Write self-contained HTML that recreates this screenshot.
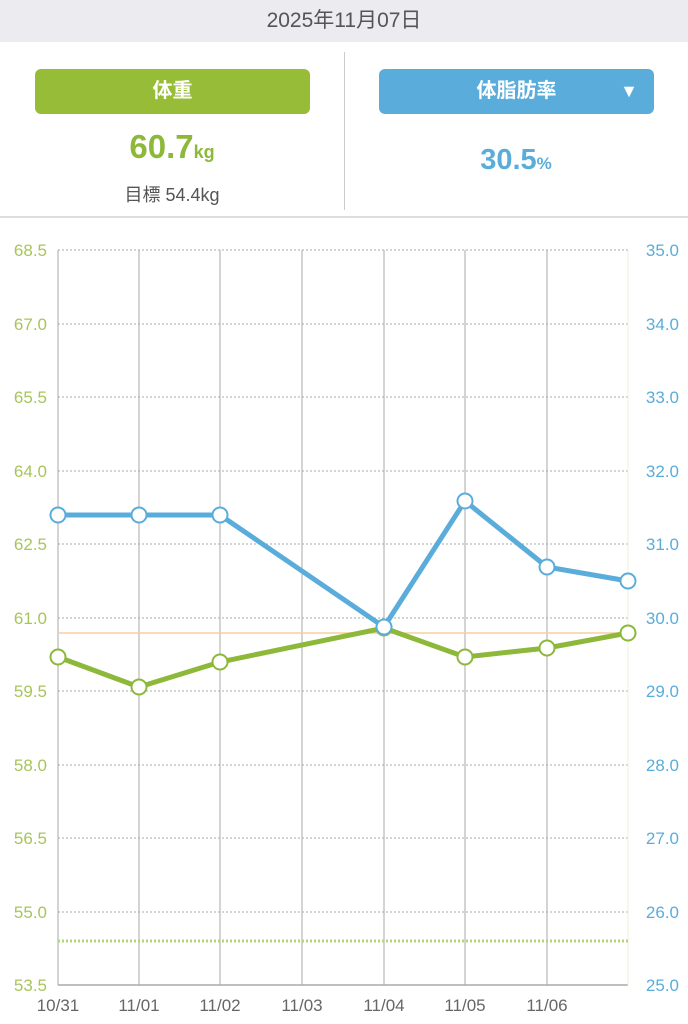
<!DOCTYPE html><html><head><meta charset="utf-8"><style>
body{margin:0;width:688px;height:1024px;background:#fff;font-family:"Liberation Sans","Noto Sans CJK JP",sans-serif;position:relative;overflow:hidden}
.hdr{position:absolute;left:0;top:0;width:688px;height:42px;background:#ebebf0;text-align:center;line-height:42px;font-size:21px;color:#555}
.btn{position:absolute;top:69px;height:45px;border-radius:6px;color:#fff;font-size:20px;line-height:45px;text-align:center;font-weight:bold}
</style></head><body>
<div class="hdr">2025年11月07日</div>
<div class="btn" style="left:35px;width:275px;background:#97bd38">体重</div>
<div class="btn" style="left:379px;width:275px;background:#5aaddb">体脂肪率<span style="position:absolute;right:16px;top:0;font-size:18px">▼</span></div>
<div style="position:absolute;left:0;width:344px;top:128px;text-align:center;color:#8db83a;font-size:33px;font-weight:bold">60.7<span style="font-size:18px">kg</span></div>
<div style="position:absolute;left:0;width:344px;top:181px;text-align:center;color:#555;font-size:18px">目標 54.4kg</div>
<div style="position:absolute;left:344px;width:344px;top:144px;text-align:center;color:#5aaddb;font-size:29px;font-weight:bold">30.5<span style="font-size:17px">%</span></div>
<div style="position:absolute;left:344px;top:52px;width:1px;height:158px;background:#ccc"></div>
<div style="position:absolute;left:0;top:216px;width:688px;height:2px;background:#ddd"></div>
<svg width="688" height="1024" style="position:absolute;left:0;top:0" font-family="Liberation Sans, sans-serif" font-size="17">
<g stroke="#aaa" stroke-dasharray="2,2" stroke-width="1">
<line x1="58" x2="628" y1="250" y2="250"/><line x1="58" x2="628" y1="324" y2="324"/><line x1="58" x2="628" y1="397" y2="397"/><line x1="58" x2="628" y1="471" y2="471"/><line x1="58" x2="628" y1="544" y2="544"/><line x1="58" x2="628" y1="618" y2="618"/><line x1="58" x2="628" y1="691" y2="691"/><line x1="58" x2="628" y1="765" y2="765"/><line x1="58" x2="628" y1="838" y2="838"/><line x1="58" x2="628" y1="912" y2="912"/>
</g>
<g stroke="#aaa" stroke-width="1">
<line x1="58" x2="58" y1="250" y2="985"/><line x1="139" x2="139" y1="250" y2="985"/><line x1="220" x2="220" y1="250" y2="985"/><line x1="302" x2="302" y1="250" y2="985"/><line x1="384" x2="384" y1="250" y2="985"/><line x1="465" x2="465" y1="250" y2="985"/><line x1="547" x2="547" y1="250" y2="985"/>
<line x1="58" x2="628" y1="985" y2="985" stroke-width="1.5"/></g>
<line x1="628" x2="628" y1="250" y2="985" stroke="#eef0d8"/>
<line x1="58" x2="628" y1="633" y2="633" stroke="#f8cfa0" stroke-width="1.5"/>
<line x1="58" x2="628" y1="941" y2="941" stroke="#b6d67a" stroke-width="3" stroke-dasharray="2,2"/>
<polyline points="58,657 139,687 220,662 384,628 465,657 547,648 628,633" fill="none" stroke="#8db83a" stroke-width="5"/>
<polyline points="58,515 139,515 220,515 384,627 465,501 547,567 628,581" fill="none" stroke="#5aaddb" stroke-width="5"/>
<g fill="#fff" stroke="#8db83a" stroke-width="2"><circle cx="58" cy="657" r="7.5"/><circle cx="139" cy="687" r="7.5"/><circle cx="220" cy="662" r="7.5"/><circle cx="384" cy="628" r="7.5"/><circle cx="465" cy="657" r="7.5"/><circle cx="547" cy="648" r="7.5"/><circle cx="628" cy="633" r="7.5"/></g>
<g fill="#fff" stroke="#5aaddb" stroke-width="2"><circle cx="58" cy="515" r="7.5"/><circle cx="139" cy="515" r="7.5"/><circle cx="220" cy="515" r="7.5"/><circle cx="384" cy="627" r="7.5"/><circle cx="465" cy="501" r="7.5"/><circle cx="547" cy="567" r="7.5"/><circle cx="628" cy="581" r="7.5"/></g>
<g fill="#a8c55a" text-anchor="end"><text x="47" y="256">68.5</text><text x="47" y="330">67.0</text><text x="47" y="403">65.5</text><text x="47" y="477">64.0</text><text x="47" y="550">62.5</text><text x="47" y="624">61.0</text><text x="47" y="697">59.5</text><text x="47" y="771">58.0</text><text x="47" y="844">56.5</text><text x="47" y="918">55.0</text><text x="47" y="991">53.5</text></g>
<g fill="#5aaddb" text-anchor="end"><text x="679" y="256">35.0</text><text x="679" y="330">34.0</text><text x="679" y="403">33.0</text><text x="679" y="477">32.0</text><text x="679" y="550">31.0</text><text x="679" y="624">30.0</text><text x="679" y="697">29.0</text><text x="679" y="771">28.0</text><text x="679" y="844">27.0</text><text x="679" y="918">26.0</text><text x="679" y="991">25.0</text></g>
<g fill="#666" text-anchor="middle"><text x="58" y="1011">10/31</text><text x="139" y="1011">11/01</text><text x="220" y="1011">11/02</text><text x="302" y="1011">11/03</text><text x="384" y="1011">11/04</text><text x="465" y="1011">11/05</text><text x="547" y="1011">11/06</text></g>
</svg>
</body></html>
